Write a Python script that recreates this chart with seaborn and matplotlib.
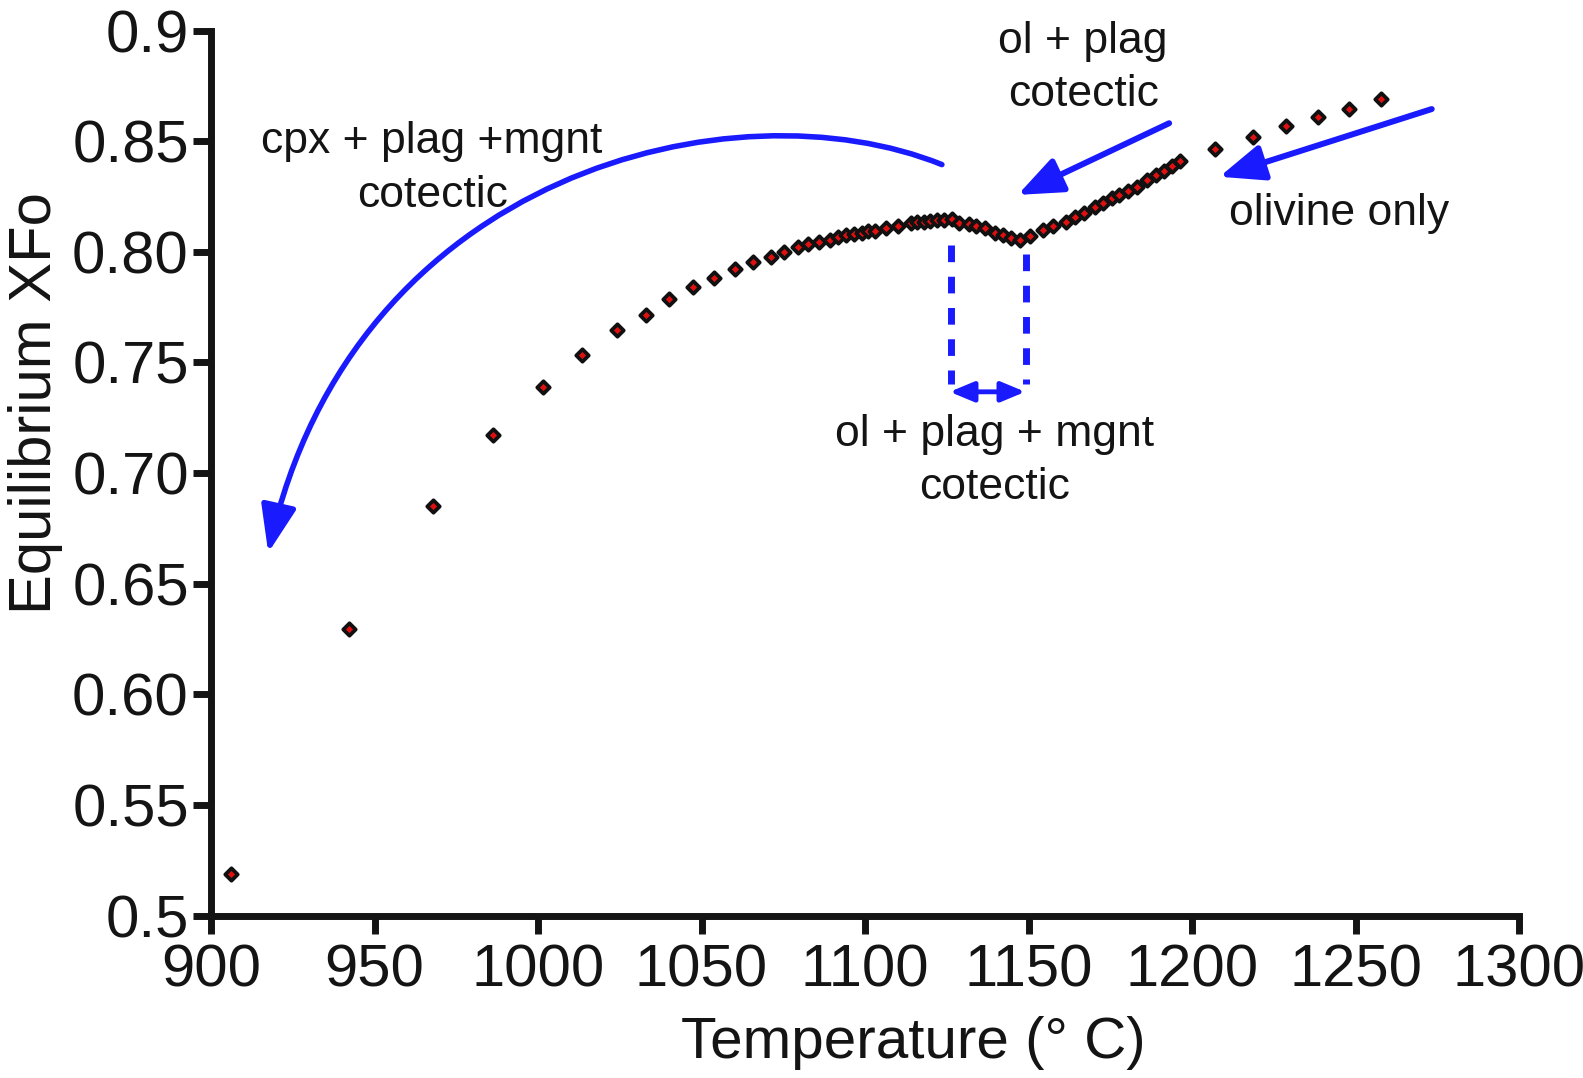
import matplotlib
matplotlib.use("Agg")
import matplotlib.pyplot as plt
import seaborn as sns
import pandas as pd
from matplotlib.patches import FancyArrowPatch
from matplotlib.path import Path

# ---- data ----
temperature = [906.2, 942.3, 967.9, 986.1, 1001.6, 1013.3, 1024.1, 1033.0, 1040.2, 1047.3,
               1053.8, 1060.2, 1065.8, 1071.3, 1075.3, 1079.6, 1082.7, 1086.0, 1089.3, 1091.7,
               1094.2, 1096.7, 1099.0, 1100.8, 1103.1, 1106.4, 1110.0, 1114.1, 1116.0, 1118.0,
               1120.0, 1122.0, 1124.0, 1126.5, 1128.8, 1131.9, 1134.0, 1136.7, 1139.8, 1142.3,
               1144.6, 1147.3, 1150.5, 1154.3, 1157.4, 1161.5, 1164.2, 1167.1, 1170.3, 1172.9,
               1175.4, 1177.8, 1180.5, 1183.1, 1186.1, 1189.0, 1191.5, 1193.8, 1196.3, 1207.0,
               1218.6, 1228.7, 1238.6, 1248.1, 1257.7]
xfo = [0.5186, 0.6295, 0.6852, 0.7171, 0.7390, 0.7532, 0.7646, 0.7714, 0.7786, 0.7839,
       0.7880, 0.7921, 0.7952, 0.7978, 0.8000, 0.8023, 0.8034, 0.8043, 0.8053, 0.8065,
       0.8076, 0.8080, 0.8083, 0.8095, 0.8095, 0.8106, 0.8116, 0.8129, 0.8133, 0.8136,
       0.8139, 0.8142, 0.8144, 0.8147, 0.8131, 0.8124, 0.8116, 0.8106, 0.8086, 0.8076,
       0.8064, 0.8055, 0.8070, 0.8100, 0.8116, 0.8136, 0.8158, 0.8176, 0.8204, 0.8219,
       0.8242, 0.8256, 0.8276, 0.8294, 0.8324, 0.8347, 0.8366, 0.8388, 0.8412, 0.8464,
       0.8517, 0.8568, 0.8608, 0.8645, 0.8689]

x_ticks = [900, 950, 1000, 1050, 1100, 1150, 1200, 1250, 1300]
y_ticks = [0.5, 0.55, 0.60, 0.65, 0.70, 0.75, 0.80, 0.85, 0.9]
y_tick_labels = ["0.5", "0.55", "0.60", "0.65", "0.70", "0.75", "0.80", "0.85", "0.9"]

annotations = ["cpx + plag +mgnt\ncotectic", "ol + plag\ncotectic", "olivine only",
               "ol + plag + mgnt\ncotectic"]

df = pd.DataFrame({"T": temperature, "XFo": xfo})

sns.set_style("ticks")
plt.rcParams["font.family"] = ["Liberation Sans", "DejaVu Sans"]

TXT = "#141414"
BLUE = "#1a1aff"

fig = plt.figure(figsize=(15.83, 10.78), dpi=100)
ax = fig.add_axes([0.1333, 0.1507, 0.8263, 0.8210])

sns.scatterplot(data=df, x="T", y="XFo", ax=ax, marker="D", s=40,
                color="#e01010", edgecolor="#111111", linewidth=2.7, zorder=3)

ax.set_xlim(900, 1300)
ax.set_ylim(0.5, 0.9)
ax.set_xticks(x_ticks)
ax.set_yticks(y_ticks)
ax.set_yticklabels(y_tick_labels)
sns.despine(ax=ax)
for s in ["left", "bottom"]:
    ax.spines[s].set_linewidth(5)
    ax.spines[s].set_color(TXT)
ax.tick_params(axis="both", length=13, width=5, color=TXT, labelsize=43,
               labelcolor=TXT, pad=3)
ax.tick_params(axis="x", pad=7)

ax.set_xlabel("Temperature (° C)", fontsize=42, color=TXT)
ax.set_ylabel("Equilibrium XFo", fontsize=43, color=TXT)
ax.xaxis.set_label_coords(0.537, -0.113)
ax.yaxis.label.set_va("center")
ax.yaxis.set_label_coords(-0.134, 0.579)

# ---- annotations ----
afs = 32
ls = 1.38
ax.text(967.6, 0.8376, annotations[0], fontsize=afs, color=TXT, ha="center",
        va="center", multialignment="center", linespacing=ls)
ax.text(1166.7, 0.8830, annotations[1], fontsize=afs, color=TXT, ha="center",
        va="center", multialignment="center", linespacing=ls)
ax.text(1244.9, 0.8172, annotations[2], fontsize=afs, color=TXT, ha="center",
        va="center")
ax.text(1139.6, 0.7055, annotations[3], fontsize=afs, color=TXT, ha="center",
        va="center", multialignment="center", linespacing=ls)

# curved arrow
verts = [(1123.5, 0.8394), (1060.0, 0.8773), (943.5, 0.8362), (917.5, 0.6640)]
codes = [Path.MOVETO, Path.CURVE4, Path.CURVE4, Path.CURVE4]
curve = FancyArrowPatch(path=Path(verts, codes), arrowstyle="-|>,head_length=1.6,head_width=0.6",
                        mutation_scale=18, color=BLUE, lw=4.0, transform=ax.transData,
                        shrinkA=0, shrinkB=0)
ax.add_patch(curve)

# straight arrows
for (x0, y0), (x1, y1) in [((1193.0, 0.8581), (1146.7, 0.8257)),
                           ((1273.3, 0.8645), (1208.4, 0.8339))]:
    ax.annotate("", xy=(x1, y1), xytext=(x0, y0),
                arrowprops=dict(arrowstyle="-|>,head_length=1.6,head_width=0.65",
                                mutation_scale=17, color=BLUE, lw=4.3,
                                shrinkA=0, shrinkB=0))

# dashed vertical lines
ax.plot([1126.3, 1126.3], [0.8029, 0.7404], color=BLUE, lw=5, dashes=(2.4, 2.1), zorder=2)
ax.plot([1149.2, 1149.2], [0.7988, 0.7404], color=BLUE, lw=5, dashes=(2.4, 2.1), zorder=2)
# double arrow
ax.annotate("", xy=(1149.0, 0.7367), xytext=(1125.9, 0.7367),
            arrowprops=dict(arrowstyle="<|-|>,head_length=1.2,head_width=0.5",
                            mutation_scale=12, color=BLUE, lw=3.5, shrinkA=0, shrinkB=0))

fig.savefig("out.png", dpi=100)
